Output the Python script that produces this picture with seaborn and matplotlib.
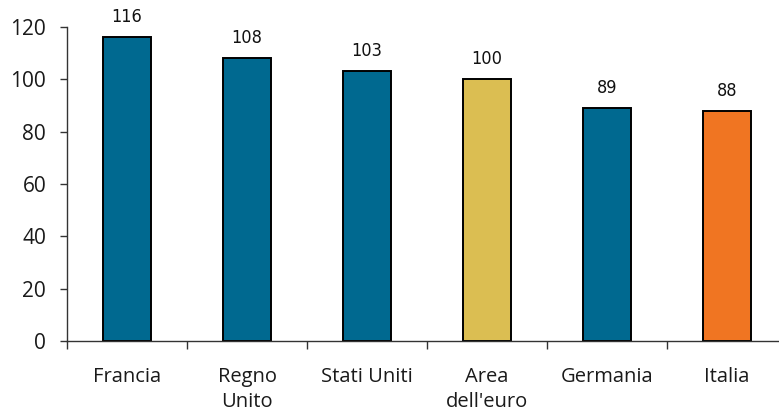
import matplotlib
matplotlib.use("Agg")
import matplotlib.pyplot as plt
from matplotlib.ticker import FixedLocator
from matplotlib import font_manager
import seaborn as sns
import pandas as pd

categories = ["Francia", "Regno\nUnito", "Stati Uniti", "Area\ndell'euro", "Germania", "Italia"]
values = [116, 108, 103, 100, 89, 88]
colors = ["#006990", "#006990", "#006990", "#DBBE52", "#006990", "#F07522"]
yticks = [0, 20, 40, 60, 80, 100, 120]

df = pd.DataFrame({"paese": categories, "valore": values})

sns.set_theme(style="white")
plt.rcParams["font.family"] = ["Open Sans", "DejaVu Sans"]


def narrow_font(size):
    """Return a regular-weight narrow/condensed face if one is installed."""
    for f in font_manager.fontManager.ttflist:
        path = f.fname
        if any(k in path for k in ("Bold", "Italic", "Oblique")):
            continue
        if f.name == "Liberation Sans Narrow":
            return font_manager.FontProperties(fname=path, size=size)
    for f in font_manager.fontManager.ttflist:
        path = f.fname
        if any(k in path for k in ("Bold", "Italic", "Oblique")):
            continue
        if f.name == "DejaVu Sans" and "Condensed" in path:
            return font_manager.FontProperties(fname=path, size=size)
    return font_manager.FontProperties(family="Liberation Sans", size=size - 1)


label_font = narrow_font(13)

fig = plt.figure(figsize=(7.79, 4.12), dpi=100)
ax = fig.add_axes([67 / 779, 71 / 412, 720 / 779, 314 / 412])

sns.barplot(data=df, x="paese", y="valore", hue="paese",
            palette=dict(zip(categories, colors)), legend=False, saturation=1,
            width=0.4, edgecolor="black", linewidth=1.4, ax=ax)

for i, v in enumerate(values):
    ax.annotate(f"{v}", xy=(i, v), xytext=(0, 8), textcoords="offset points",
                ha="center", va="bottom", color="#111111",
                fontproperties=label_font, annotation_clip=False)

ax.set_xlim(-0.5, 5.5)
ax.set_ylim(0, 120)
ax.set_yticks(yticks)
ax.set_yticklabels([str(t) for t in yticks])
ax.set_xlabel("")
ax.set_ylabel("")

for s in ["top", "right"]:
    ax.spines[s].set_visible(False)
for s in ["left", "bottom"]:
    ax.spines[s].set_color("#333333")
    ax.spines[s].set_linewidth(1.0)

ax.xaxis.set_minor_locator(FixedLocator([i - 0.5 for i in range(len(categories) + 1)]))
ax.tick_params(axis="x", which="major", length=0, pad=19, labelsize=14.5, colors="#1a1a1a")
ax.tick_params(axis="x", which="minor", bottom=True, length=6, width=1.0, color="#333333")
ax.tick_params(axis="y", which="major", left=True, length=5, width=1.0, color="#333333",
               labelsize=15, labelcolor="#1a1a1a", pad=10)
for lab in ax.get_xticklabels():
    lab.set_linespacing(1.3)

fig.savefig("out.png", dpi=100)
